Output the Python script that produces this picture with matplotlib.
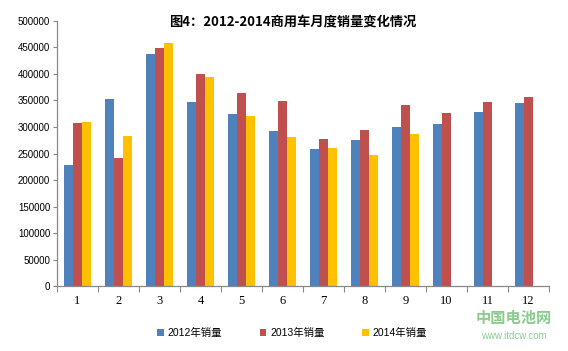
import matplotlib
matplotlib.use("Agg")
import matplotlib.pyplot as plt
import numpy as np

plt.rcParams['font.family'] = ['Liberation Sans', 'Noto Sans CJK SC', 'DejaVu Sans']

months = ["1", "2", "3", "4", "5", "6", "7", "8", "9", "10", "11", "12"]
sales_2012 = [228000, 352500, 437500, 347000, 324500, 292500, 258500, 275500, 300000, 305500, 328000, 345000]
sales_2013 = [307500, 241500, 448500, 400000, 364000, 349000, 277500, 294000, 341500, 326500, 347000, 356500]
sales_2014 = [309500, 283000, 458500, 394000, 320500, 281000, 260500, 247000, 287000]
series_names = ["2012年销量", "2013年销量", "2014年销量"]
colors = ["#4F81BD", "#C0504D", "#FFC000"]
title = "图4：2012-2014商用车月度销量变化情况"
yticks = [0, 50000, 100000, 150000, 200000, 250000, 300000, 350000, 400000, 450000, 500000]

fig = plt.figure(figsize=(5.68, 3.51), dpi=100)
ax = fig.add_axes([0.1004, 0.1843, 0.8661, 0.7567])

w = 0.22
x = np.arange(len(months))
handles = []
for i, (vals, c, name) in enumerate(zip([sales_2012, sales_2013, sales_2014], colors, series_names)):
    xs = np.arange(len(vals)) + (i - 1) * w
    b = ax.bar(xs, vals, width=w, color=c, label=name, linewidth=0)
    handles.append(b)

ax.set_xlim(-0.5, len(months) - 0.5)
ax.set_ylim(0, 500000)
ax.set_yticks(yticks)
ax.set_yticklabels([str(v) for v in yticks], fontsize=7)
ax.set_xticks(np.arange(-0.5, len(months)), minor=False)
ax.set_xticklabels([])
ax.set_xticks(x, minor=True)
ax.set_xticklabels(months, minor=True, fontsize=9, family=['Liberation Serif'])
ax.tick_params(axis='x', which='major', length=4, direction='out', color='#888888')
ax.tick_params(axis='x', which='minor', length=0, pad=6)
ax.tick_params(axis='y', length=3, direction='out', color='#888888', pad=2)

for s in ['top', 'right']:
    ax.spines[s].set_visible(False)
for s in ['left', 'bottom']:
    ax.spines[s].set_color('#888888')
    ax.spines[s].set_linewidth(0.9)

fig.text(0.516, 0.937, title, ha='center', va='center', fontsize=9.5,
         family=['Noto Sans CJK SC', 'DejaVu Sans'], fontweight='bold')

leg = fig.legend(handles=handles, labels=series_names, loc='center', bbox_to_anchor=(0.514, 0.051),
                 ncol=3, frameon=False, handlelength=0.65, handleheight=0.65,
                 columnspacing=3.6, handletextpad=0.35,
                 prop={'family': ['Liberation Sans', 'Noto Sans CJK SC'], 'size': 7.5})

fig.text(0.905, 0.095, "中国电池网", ha='center', va='center', fontsize=11,
         color='#6cc070', family=['Noto Sans CJK SC'], fontweight='bold', alpha=0.8)
fig.text(0.905, 0.043, "www.itdcw.com", ha='center', va='center', fontsize=7,
         color='#6cc070', alpha=0.8)

fig.savefig("out.png", dpi=100)
